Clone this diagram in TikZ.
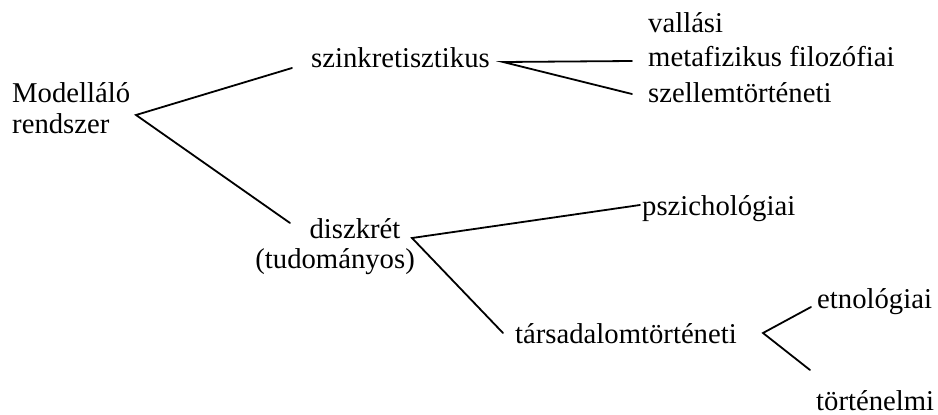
\documentclass[tikz,border=0pt]{standalone}
\usepackage{fontspec}
\setmainfont{Liberation Serif}
\begin{document}
\begin{tikzpicture}[x=1pt,y=-1pt,
  lbl/.style={anchor=base west, inner sep=0pt, font=\fontsize{28.7}{34}\selectfont},
  conn/.style={line width=1.8pt, line cap=round}]
\useasboundingbox[fill=white] (0,0) rectangle (938,415);
% text nodes
\node[lbl] (mod1) at (12,102) {Modelláló};
\node[lbl] (mod2) at (12,133) {rendszer};
\node[lbl] (szin) at (311,67) {szinkretisztikus};
\node[lbl] (vall) at (648,32) {vallási};
\node[lbl] (meta) at (648,66) {metafizikus filozófiai};
\node[lbl] (szel) at (648,102) {szellemtörténeti};
\node[lbl, anchor=base] (disz) at (355,238) {diszkrét};
\node[lbl, anchor=base east] (tud) at (415,268) {(tudományos)};
\node[lbl] (pszi) at (642,215) {pszichológiai};
\node[lbl] (tars) at (515,343) {társadalomtörténeti};
\node[lbl] (etno) at (817,308) {etnológiai};
\node[lbl] (tort) at (816,410) {történelmi};
% connector end points
\coordinate (b0) at (136,115);
\coordinate (e-szin) at (292,68);
\coordinate (e-disz) at (290,223);
\coordinate (b1) at (503,62);
\coordinate (e-meta) at (632,61);
\coordinate (e-szel) at (632,94);
\coordinate (b2) at (412,238);
\coordinate (e-pszi) at (640,205);
\coordinate (e-tars) at (503,333);
\coordinate (b3) at (763,333);
\coordinate (e-etno) at (811,307);
\coordinate (e-tort) at (810,370);
% connectors
\draw[conn] (e-szin) -- (b0) -- (e-disz);
\draw[conn] (e-meta) -- (b1) -- (e-szel);
\draw[conn] (e-pszi) -- (b2) -- (e-tars);
\draw[conn] (e-etno) -- (b3) -- (e-tort);
\end{tikzpicture}
\end{document}
